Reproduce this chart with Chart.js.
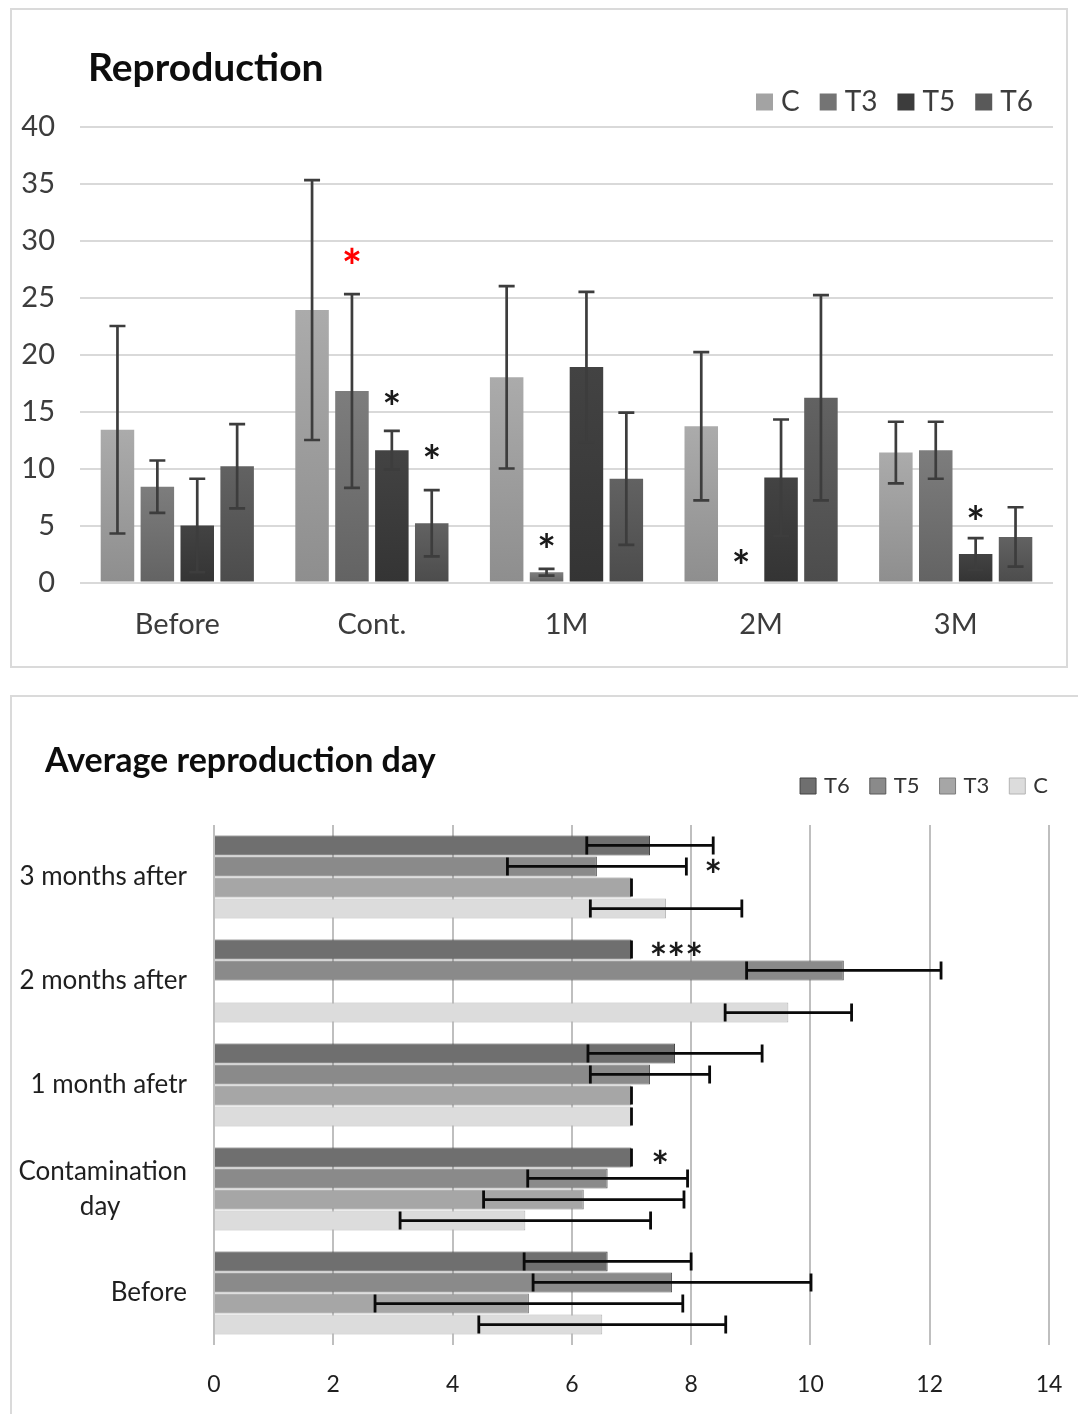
<!DOCTYPE html>
<html>
<head>
<meta charset="utf-8">
<script src="https://cdn.jsdelivr.net/npm/chart.js@4.4.1/dist/chart.umd.min.js"></script>
<style>
  html, body { margin: 0; background: #fff; overflow: hidden; }
  .panel { position: absolute; box-sizing: border-box; border: 2px solid #dadada; background: #fff; }
  #topPanel { left: 10px; top: 8px; width: 1058px; height: 660px; }
  #bottomPanel { left: 10px; top: 695px; width: 1072px; height: 722px; }
  .box { position: absolute; left: 0; top: 0; }
</style>
</head>
<body>
<div class="panel" id="topPanel"><div class="box" style="width:1054px;height:656px"><canvas id="reproChart"></canvas></div></div>
<div class="panel" id="bottomPanel"><div class="box" style="width:1066px;height:715px"><canvas id="avgDayChart"></canvas></div></div>
<script>
const FONT = 'Lato, "Open Sans", sans-serif'

// Reproduction (mean and error per group)
const repCategories = ['Before', 'Cont.', '1M', '2M', '3M']
const repC = [13.4, 23.9, 18.0, 13.7, 11.4]
const repCErr = [9.1, 11.4, 8.0, 6.5, 2.7]
const repT3 = [8.4, 16.8, 0.9, 0, 11.6]
const repT3Err = [2.3, 8.5, 0.3, null, 2.5]
const repT5 = [5.0, 11.6, 18.9, 9.2, 2.5]
const repT5Err = [4.1, 1.7, 6.6, 5.1, 1.4]
const repT6 = [10.2, 5.2, 9.1, 16.2, 4.0]
const repT6Err = [3.7, 2.9, 5.8, 9.0, 2.6]
const repTicks = [0, 5, 10, 15, 20, 25, 30, 35, 40]

// significance marks: category, series, height
const repStarCat = [1, 1, 1, 2, 3, 4]
const repStarSet = [1, 2, 3, 1, 1, 2]
const repStarValue = [28.6, 16.2, 11.5, 3.7, 2.3, 6.1]
const repStarText = ['*', '*', '*', '*', '*', '*']
const repStarRed = [true, false, false, false, false, false]

// Average reproduction day
const dayCategories = ['3 months after', '2 months after', '1 month afetr', ['Contamination', 'day'], 'Before']
const dayT6 = [7.31, 7.0, 7.73, 7.0, 6.6]
const dayT6Err = [1.06, 0, 1.46, 0, 1.4]
const dayT5 = [6.42, 10.56, 7.31, 6.6, 7.68]
const dayT5Err = [1.5, 1.63, 1.0, 1.34, 2.33]
const dayT3 = [7.0, 0, 7.0, 6.2, 5.28]
const dayT3Err = [0, null, 0, 1.68, 2.58]
const dayC = [7.58, 9.63, 7.0, 5.22, 6.51]
const dayCErr = [1.27, 1.06, 0, 2.1, 2.07]
const dayTicks = [0, 2, 4, 6, 8, 10, 12, 14]

const dayStarCat = [0, 1, 3]
const dayStarSet = [1, 0, 0]
const dayStarValue = [8.37, 7.75, 7.48]
const dayStarText = ['*', '***', '*']

// error bars, drawn through the value scale
const errorBars = {
  id: 'errorBars',
  afterDatasetsDraw(chart, args, opts) {
    const { ctx } = chart
    const horizontal = chart.options.indexAxis === 'y'
    const vs = horizontal ? chart.scales.x : chart.scales.y
    ctx.save()
    ctx.strokeStyle = opts.color
    ctx.lineWidth = opts.width
    chart.data.datasets.forEach((ds, di) => {
      const meta = chart.getDatasetMeta(di)
      if (!ds.errors || meta.hidden) return
      meta.data.forEach((bar, i) => {
        const e = ds.errors[i]
        if (e === null || e === undefined) return
        const v = ds.data[i]
        const lo = vs.getPixelForValue(v - e)
        const hi = vs.getPixelForValue(v + e)
        const c = horizontal ? bar.y : bar.x
        const k = opts.cap
        ctx.beginPath()
        if (horizontal) {
          ctx.moveTo(lo, c); ctx.lineTo(hi, c)
          ctx.moveTo(lo, c - k); ctx.lineTo(lo, c + k)
          ctx.moveTo(hi, c - k); ctx.lineTo(hi, c + k)
        } else {
          ctx.moveTo(c, lo); ctx.lineTo(c, hi)
          ctx.moveTo(c - k, lo); ctx.lineTo(c + k, lo)
          ctx.moveTo(c - k, hi); ctx.lineTo(c + k, hi)
        }
        ctx.stroke()
      })
    })
    ctx.restore()
  },
}

// asterisks
const stars = {
  id: 'stars',
  afterDatasetsDraw(chart, args, opts) {
    const { ctx } = chart
    const horizontal = chart.options.indexAxis === 'y'
    const vs = horizontal ? chart.scales.x : chart.scales.y
    ctx.save()
    ctx.textAlign = 'center'
    ctx.textBaseline = 'alphabetic'
    opts.cats.forEach((cat, i) => {
      const bar = chart.getDatasetMeta(opts.sets[i]).data[cat]
      const p = vs.getPixelForValue(opts.values[i])
      const red = opts.red && opts.red[i]
      const size = red ? opts.size + 4 : opts.size
      ctx.font = `bold ${size}px ${FONT}`
      ctx.fillStyle = red ? '#ff0000' : '#1a1a1a'
      const x = horizontal ? p : bar.x
      const y = (horizontal ? bar.y : p) + size * 0.58
      ctx.fillText(opts.texts[i], x, y)
    })
    ctx.restore()
  },
}

// move title / legend to where the original has them
const headerPlace = {
  id: 'headerPlace',
  afterLayout(chart, args, opts) {
    const t = chart.titleBlock
    if (t) {
      const lh = t.options.font.size * 1.2
      const center = t.top + t.options.padding.top + lh / 2
      const d = opts.titleY - center
      t.top += d
      t.bottom += d
      t.left = opts.titleX
      t.right = chart.width
    }
    const l = chart.legend
    if (l) {
      const pad = l.options.labels.padding
      const size = l.options.labels.font.size
      const h = l.height
      l.top = opts.legendY - pad - size / 2
      l.bottom = l.top + h
    }
  },
}

const barShade = (light, dark) => (c) => {
  const y = c.chart.scales.y
  if (!c.chart.chartArea || !c.parsed || !y) return dark
  const g = c.chart.ctx.createLinearGradient(0, y.getPixelForValue(c.parsed.y), 0, y.getPixelForValue(0))
  g.addColorStop(0, light)
  g.addColorStop(1, dark)
  return g
}

const repLegendColors = ['#a3a3a3', '#747474', '#3c3c3c', '#595959']

new Chart('reproChart', {
  type: 'bar',
  data: {
    labels: repCategories,
    datasets: [
      { label: 'C', data: repC, errors: repCErr, backgroundColor: barShade('#ababab', '#8e8e8e') },
      { label: 'T3', data: repT3, errors: repT3Err, backgroundColor: barShade('#7d7d7d', '#636363') },
      { label: 'T5', data: repT5, errors: repT5Err, backgroundColor: barShade('#434343', '#343434') },
      { label: 'T6', data: repT6, errors: repT6Err, backgroundColor: barShade('#626262', '#4c4c4c') },
    ],
  },
  options: {
    responsive: true,
    maintainAspectRatio: false,
    animation: false,
    layout: { padding: { left: 0, right: 7, top: 0, bottom: 0 } },
    datasets: { bar: { categoryPercentage: 0.82, barPercentage: 0.84 } },
    scales: {
      x: {
        grid: { display: false },
        border: { display: false },
        ticks: { font: { family: FONT, size: 29 }, color: '#3c3c3c', padding: 17 },
        afterFit: (s) => { s.height = 83.5; s.paddingRight = 13 },
      },
      y: {
        min: 0,
        max: 40,
        afterBuildTicks: (s) => { s.ticks = repTicks.map((v) => ({ value: v })) },
        ticks: { font: { family: FONT, size: 29 }, color: '#3c3c3c', padding: 25 },
        grid: { color: '#d9d9d9', lineWidth: 2, drawTicks: false },
        border: { display: false },
        afterFit: (s) => { s.width = 68 },
      },
    },
    plugins: {
      title: {
        display: true,
        text: 'Reproduction',
        align: 'start',
        color: '#0d0d0d',
        font: { family: FONT, size: 39, weight: 'bold', lineHeight: 1.2 },
        padding: { top: 5.7, bottom: 0 },
      },
      legend: {
        align: 'end',
        labels: {
          font: { family: FONT, size: 28 },
          color: '#3c3c3c',
          usePointStyle: true,
          pointStyle: 'rect',
          boxWidth: 5,
          boxHeight: 17,
          padding: 26,
          generateLabels: (chart) => {
            const items = Chart.defaults.plugins.legend.labels.generateLabels(chart)
            items.forEach((it, i) => { it.fillStyle = repLegendColors[i]; it.lineWidth = 0; it.pointStyle = 'rect' })
            return items
          },
        },
      },
      tooltip: { enabled: false },
      errorBars: { color: '#3d3d3d', width: 2.7, cap: 8 },
      stars: { cats: repStarCat, sets: repStarSet, values: repStarValue, texts: repStarText, red: repStarRed, size: 44 },
      headerPlace: { titleX: 76, titleY: 58, legendY: 92 },
    },
  },
  plugins: [errorBars, stars, headerPlace],
})

// centre the short line of a two-line label under the long one
const measureCtx = document.createElement('canvas').getContext('2d')
const centerLines = (lines, font) => {
  measureCtx.font = font
  const widths = lines.map((s) => measureCtx.measureText(s).width)
  const max = Math.max(...widths)
  const space = measureCtx.measureText(' ').width
  return lines.map((s, i) => s + ' '.repeat(Math.round((max - widths[i]) / 2 / space)))
}

const dayFill = ['#6f6f6f', '#8a8a8a', '#a6a6a6', '#dcdcdc']
const dayEdge = ['#434343', '#585858', '#7c7c7c', '#b4b4b4']

new Chart('avgDayChart', {
  type: 'bar',
  data: {
    labels: dayCategories,
    datasets: [
      { label: 'T6', data: dayT6, errors: dayT6Err, backgroundColor: dayFill[0], borderColor: dayEdge[0], borderWidth: 1 },
      { label: 'T5', data: dayT5, errors: dayT5Err, backgroundColor: dayFill[1], borderColor: dayEdge[1], borderWidth: 1 },
      { label: 'T3', data: dayT3, errors: dayT3Err, backgroundColor: dayFill[2], borderColor: dayEdge[2], borderWidth: 1 },
      { label: 'C', data: dayC, errors: dayCErr, backgroundColor: dayFill[3], borderColor: dayEdge[3], borderWidth: 1 },
    ],
  },
  options: {
    indexAxis: 'y',
    responsive: true,
    maintainAspectRatio: false,
    animation: false,
    layout: { padding: { left: 0, right: 7, top: 0, bottom: 0 } },
    datasets: { bar: { categoryPercentage: 0.81, barPercentage: 0.95 } },
    scales: {
      x: {
        min: 0,
        max: 14,
        afterBuildTicks: (s) => { s.ticks = dayTicks.map((v) => ({ value: v })) },
        ticks: { font: { family: FONT, size: 23 }, color: '#1f1f1f', padding: 26 },
        grid: { color: '#bfbfbf', lineWidth: 2, drawTicks: false },
        border: { display: false },
        afterFit: (s) => { s.height = 67; s.paddingRight = 29 },
      },
      y: {
        grid: { display: false, drawTicks: false },
        border: { display: false },
        ticks: {
          font: { family: FONT, size: 26, lineHeight: 1.35 },
          color: '#1f1f1f',
          padding: 27,
          callback: function (value) {
            const label = this.getLabelForValue(value)
            return Array.isArray(label) ? centerLines(label, `26px ${FONT}`) : label
          },
        },
        afterFit: (s) => { s.width = 202 },
      },
    },
    plugins: {
      title: {
        display: true,
        text: 'Average reproduction day',
        align: 'start',
        color: '#0d0d0d',
        font: { family: FONT, size: 34, weight: 'bold', lineHeight: 1.2 },
        padding: { top: 32.2, bottom: 0 },
      },
      legend: {
        align: 'end',
        labels: {
          font: { family: FONT, size: 22 },
          color: '#333333',
          usePointStyle: true,
          pointStyle: 'rect',
          boxWidth: 10,
          boxHeight: 16,
          padding: 23,
          generateLabels: (chart) => {
            const items = Chart.defaults.plugins.legend.labels.generateLabels(chart)
            items.forEach((it) => { it.pointStyle = 'rect' })
            return items
          },
        },
      },
      tooltip: { enabled: false },
      errorBars: { color: '#0a0a0a', width: 2.8, cap: 9 },
      stars: { cats: dayStarCat, sets: dayStarSet, values: dayStarValue, texts: dayStarText, size: 42 },
      headerPlace: { titleX: 33, titleY: 64, legendY: 89 },
    },
  },
  plugins: [errorBars, stars, headerPlace],
})
</script>
</body>
</html>
